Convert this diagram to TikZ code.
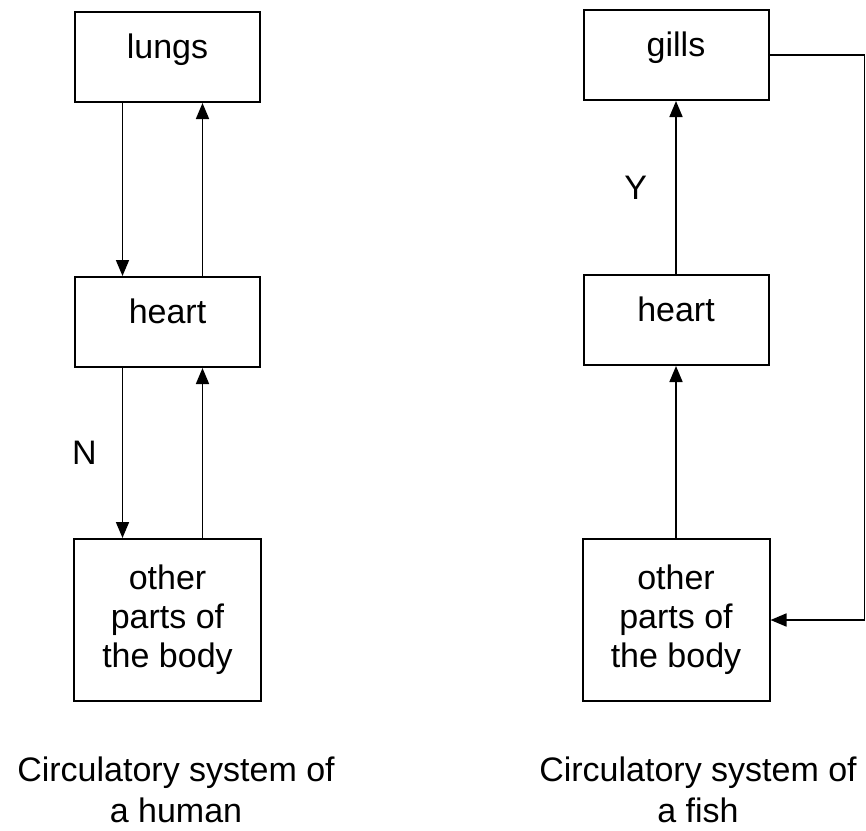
\documentclass[tikz,border=0pt]{standalone}
\usepackage{fontspec}
\setmainfont{Liberation Sans}
\usetikzlibrary{arrows.meta, positioning}

\begin{document}
\begin{tikzpicture}[
  x=1pt, y=1pt,
  font=\fontsize{34}{39}\selectfont,
  organ/.style={draw, line width=2pt, minimum width=185pt, minimum height=90pt,
                text height=25pt, text depth=22pt, inner sep=0pt},
  rest/.style={draw, line width=2pt, minimum width=187pt, minimum height=162pt,
               align=center, inner sep=0pt},
  fl/.style={-{Triangle[length=16pt, width=13pt]}, line width=1.7pt},
  t/.style={inner sep=0pt},
  sub/.style={align=center, inner sep=0pt, font=\fontsize{34}{41}\selectfont}
]
\useasboundingbox (0,0) rectangle (866,-830);

% human
\node[organ] (lungs) at (167.5,-57) {lungs};
\node[organ, below=173pt of lungs] (hheart) {heart};
\node[rest, below=170pt of hheart] (hbody) {other\\parts of\\the body};

\draw[fl] ([xshift=-45pt]lungs.south) -- ([xshift=-45pt]hheart.north);
\draw[fl] ([xshift=35pt]hheart.north) -- ([xshift=35pt]lungs.south);
\draw[fl] ([xshift=-45pt]hheart.south) -- node[t, left=25pt] (N) {N} ([xshift=-45pt]hbody.north);
\draw[fl] ([xshift=35pt]hbody.north) -- ([xshift=35pt]hheart.south);

% fish
\node[organ] (gills) at (676,-55) {gills};
\node[organ, below=173pt of gills] (fheart) {heart};
\node[rest, below=172pt of fheart] (fbody) {other\\parts of\\the body};

\draw[fl] (fheart.north) -- node[t, left=28pt] (Y) {Y} (gills.south);
\draw[fl] (fbody.north) -- (fheart.south);
\draw[fl] (gills.east) -- ++(95pt,0) |- (fbody.east);

% captions
\node[sub] (hcap) at (176,-790) {Circulatory system of\\a human};
\node[sub] (fcap) at (698,-790) {Circulatory system of\\a fish};
\end{tikzpicture}
\end{document}
